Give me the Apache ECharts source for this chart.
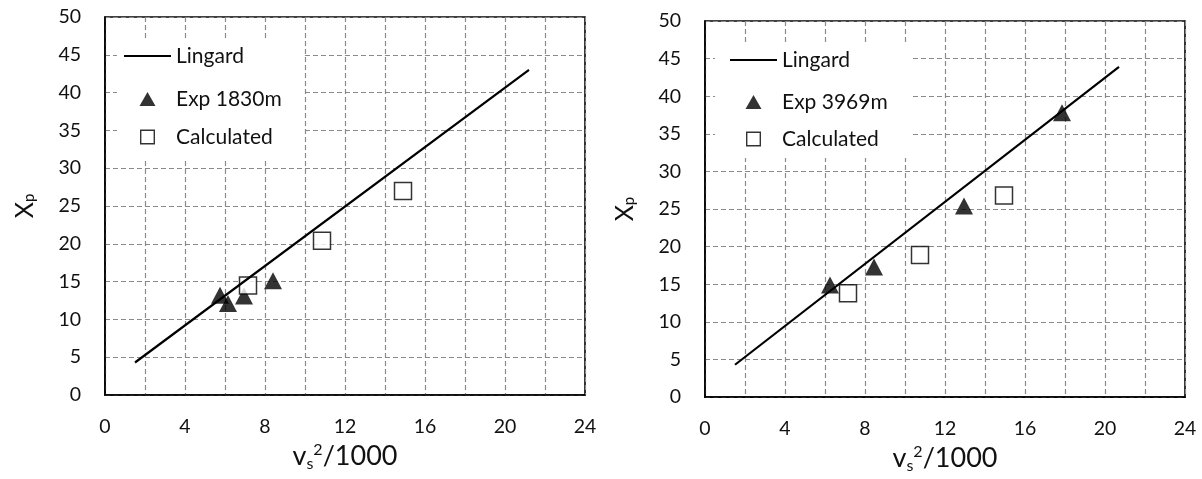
<!DOCTYPE html>
<html><head><meta charset="utf-8">
<script src="https://cdn.jsdelivr.net/npm/echarts@6/dist/echarts.min.js"></script>
<style>html,body{margin:0;padding:0;background:#fff}#c{width:1202px;height:479px}</style>
</head><body><div id="c"></div>
<script>
// tick labels
const xTickLabels = [0, 4, 8, 12, 16, 20, 24];
const yTickLabels = [0, 5, 10, 15, 20, 25, 30, 35, 40, 45, 50];
// left chart (1830 m)
const lingardLeft = [[1.5, 4.3], [21.2, 43.0]];
const exp1830 = [[5.75, 13.2], [6.15, 12.1], [6.95, 13.1], [8.4, 15.1]];
const calcLeft = [[7.15, 14.5], [10.85, 20.4], [14.9, 27.0]];
// right chart (3969 m)
const lingardRight = [[1.5, 4.3], [20.7, 43.9]];
const exp3969 = [[6.25, 14.9], [8.45, 17.3], [12.95, 25.4], [17.85, 37.8]];
const calcRight = [[7.15, 13.8], [10.75, 18.9], [14.95, 26.8]];

const FONT = 'Lato';
const TXT = '#111';
const chart = echarts.init(document.getElementById('c'), null, {renderer: 'canvas'});

function xAxis(gi) {
  return {
    type: 'value', gridIndex: gi, min: 0, max: 24, interval: 2,
    axisLine: {show: true, lineStyle: {color: '#000', width: 1.6}},
    axisTick: {show: false},
    axisLabel: {
      margin: 22, color: TXT, fontSize: 19.5, fontFamily: FONT,
      formatter: v => xTickLabels.indexOf(v) >= 0 ? String(v) : ''
    },
    splitLine: {show: true, lineStyle: {color: '#8a8a8a', type: [5, 3], width: 1.2}},
    name: '{a|v}{sub|s}{sup|2}{a|/1000}',
    nameLocation: 'middle', nameGap: 44,
    nameTextStyle: {
      fontFamily: FONT, color: TXT,
      rich: {
        a: {fontSize: 27, fontFamily: FONT, color: TXT, lineHeight: 30},
        sub: {fontSize: 16, fontFamily: FONT, color: TXT, padding: [16, 0, 0, 0]},
        sup: {fontSize: 16, fontFamily: FONT, color: TXT, padding: [0, 0, 12, 0]}
      }
    }
  };
}
function yAxis(gi) {
  return {
    type: 'value', gridIndex: gi, min: 0, max: 50, interval: 5,
    axisLine: {show: true, lineStyle: {color: '#000', width: 1.6}},
    axisTick: {show: false},
    axisLabel: {
      margin: 24, color: TXT, fontSize: 19.5, fontFamily: FONT,
      formatter: v => yTickLabels.indexOf(v) >= 0 ? String(v) : ''
    },
    splitLine: {show: true, lineStyle: {color: '#8a8a8a', type: [5, 3], width: 1.2}},
    name: '{a|X}{sub|p}',
    nameLocation: 'middle', nameGap: 68, nameRotate: 90,
    nameTextStyle: {
      fontFamily: FONT, color: TXT,
      rich: {
        a: {fontSize: 25, fontFamily: FONT, color: TXT},
        sub: {fontSize: 15, fontFamily: FONT, color: TXT, padding: [10, 0, 0, 0]}
      }
    }
  };
}
// legend icons drawn in a 47x15 box (zero-area corner anchors fix the box size)
const ANCHORS = 'M0,0L0.01,0L0,0.01Z M47,15L46.99,15L47,14.99Z ';
const LINE_ICON = 'path://' + ANCHORS + 'M0,6.4L47,6.4L47,8.6L0,8.6Z';
const TRI_ICON = 'path://' + ANCHORS + 'M15.5,14.5L23.5,0.5L31.5,14.5Z';
const SQ_ICON = 'path://' + ANCHORS + 'M16,0L31,0L31,15L16,15Z M17.4,1.4L17.4,13.6L29.6,13.6L29.6,1.4Z';
function legendItem(name, left, top, icon) {
  return {
    data: [{name: name, icon: icon, itemStyle: {color: '#000', borderWidth: 0}}],
    left: left, top: top, padding: 0, orient: 'vertical',
    itemWidth: 47, itemHeight: 15, selectedMode: false,
    textStyle: {fontSize: 21, lineHeight: 24, fontFamily: FONT, color: TXT}
  };
}
const triStyle = {color: '#000'};
const sqStyle = {color: '#fff', borderColor: '#000', borderWidth: 1.5};

chart.setOption({
  animation: false,
  backgroundColor: '#fff',
  grid: [
    {left: 105, top: 17, width: 480, height: 378, show: true, borderColor: '#000', borderWidth: 1.6, backgroundColor: 'transparent'},
    {left: 705, top: 21, width: 480, height: 378, show: true, borderColor: '#000', borderWidth: 1.6, backgroundColor: 'transparent'}
  ],
  xAxis: [xAxis(0), xAxis(1)],
  yAxis: [yAxis(0), yAxis(1)],
  graphic: {elements: [
    {type: 'rect', z: 3, shape: {x: 117, y: 40, width: 186, height: 118}, style: {fill: '#fff'}},
    {type: 'rect', z: 3, shape: {x: 715, y: 42, width: 196, height: 116}, style: {fill: '#fff'}}
  ]},
  legend: [
    legendItem('Lingard', 124, 44, LINE_ICON),
    legendItem('Exp 1830m', 124, 87, TRI_ICON),
    legendItem('Calculated', 124, 125, SQ_ICON),
    legendItem('Lingard ', 730, 48, LINE_ICON),
    legendItem('Exp 3969m', 730, 90, TRI_ICON),
    legendItem('Calculated ', 730, 127, SQ_ICON)
  ],
  series: [
    {name: 'Lingard', type: 'line', xAxisIndex: 0, yAxisIndex: 0, data: lingardLeft, symbol: 'none', lineStyle: {color: '#000', width: 2.2}, itemStyle: {color: '#000'}},
    {name: 'Exp 1830m', type: 'scatter', xAxisIndex: 0, yAxisIndex: 0, data: exp1830, symbol: 'triangle', symbolSize: [18, 17], itemStyle: triStyle},
    {name: 'Calculated', type: 'scatter', xAxisIndex: 0, yAxisIndex: 0, data: calcLeft, symbol: 'rect', symbolSize: 17, itemStyle: sqStyle},
    {name: 'Lingard ', type: 'line', xAxisIndex: 1, yAxisIndex: 1, data: lingardRight, symbol: 'none', lineStyle: {color: '#000', width: 2.2}, itemStyle: {color: '#000'}},
    {name: 'Exp 3969m', type: 'scatter', xAxisIndex: 1, yAxisIndex: 1, data: exp3969, symbol: 'triangle', symbolSize: [18, 17], itemStyle: triStyle},
    {name: 'Calculated ', type: 'scatter', xAxisIndex: 1, yAxisIndex: 1, data: calcRight, symbol: 'rect', symbolSize: 17, itemStyle: sqStyle}
  ]
});
</script></body></html>
